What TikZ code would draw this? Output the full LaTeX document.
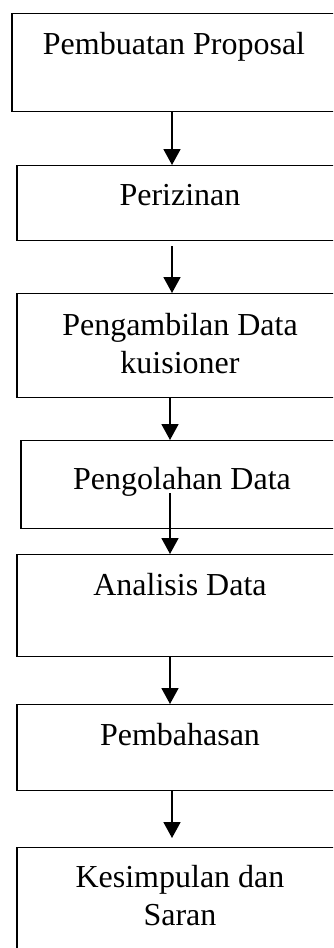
\documentclass[tikz,border=0pt]{standalone}
\usepackage{fontspec}
\setmainfont{Liberation Serif}
\usetikzlibrary{arrows.meta}
\tikzset{
  kotak/.style={draw, line width=1.3pt, anchor=north, minimum width=326pt, inner sep=0pt},
  teks/.style={anchor=base, align=center, inner sep=0pt, font=\fontsize{32}{38}\selectfont},
  panah/.style={-{Triangle[width=17pt,length=16pt]}, line width=1.8pt}
}
\begin{document}
\begin{tikzpicture}[x=1pt,y=-1pt]
\useasboundingbox (0,0) rectangle (333,948);
\clip (0,0) rectangle (333,948);
\node[kotak, minimum width=324pt, minimum height=98pt] (proposal) at (174,13) {};
\node[kotak, minimum height=75pt] (izin) at (180,165) {};
\node[kotak, minimum height=104pt] (ambil) at (180,293) {};
\node[kotak, minimum width=322pt, minimum height=88pt] (olah) at (182,440) {};
\node[kotak, minimum height=102pt] (analisis) at (180,554) {};
\node[kotak, minimum height=86pt] (bahas) at (180,704) {};
\node[kotak, minimum height=130pt] (simpul) at (180,847) {};
\node[teks] (tproposal) at ([yshift=-41pt]proposal.north) {Pembuatan Proposal};
\node[teks] (tizin) at ([yshift=-40pt]izin.north) {Perizinan};
\node[teks] (tambil) at ([yshift=-80pt]ambil.north) {Pengambilan Data\\kuisioner};
\node[teks] (tolah) at ([yshift=-49pt]olah.north) {Pengolahan Data};
\node[teks] (tanalisis) at ([yshift=-41pt]analisis.north) {Analisis Data};
\node[teks] (tbahas) at ([yshift=-41pt]bahas.north) {Pembahasan};
\node[teks] (tsimpul) at ([yshift=-78pt]simpul.north) {Kesimpulan dan\\Saran};
\draw[panah] ([xshift=-2pt]proposal.south) -- ([xshift=-8pt]izin.north);
\draw[panah] ([xshift=-8pt,yshift=-5pt]izin.south) -- ([xshift=-8pt]ambil.north);
\draw[panah] ([xshift=-10pt]ambil.south) -- ([xshift=-12pt]olah.north);
\draw[panah] ([xshift=-12pt,yshift=36pt]olah.south) -- ([xshift=-10pt]analisis.north);
\draw[panah] ([xshift=-10pt]analisis.south) -- ([xshift=-10pt]bahas.north);
\draw[panah] ([xshift=-8pt]bahas.south) -- ([xshift=-8pt,yshift=9pt]simpul.north);
\end{tikzpicture}
\end{document}
